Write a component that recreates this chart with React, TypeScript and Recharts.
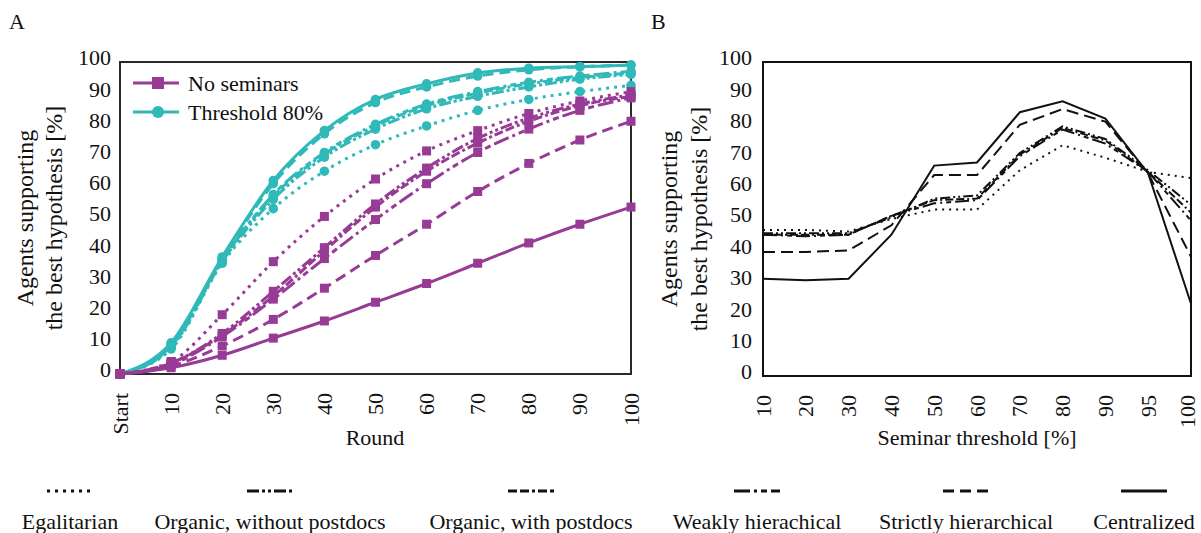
import React from "react";
import { LineChart, Line, XAxis, YAxis, ReferenceArea } from "recharts";

// ---- data ----
const rounds = ["Start", "10", "20", "30", "40", "50", "60", "70", "80", "90", "100"];
const thresholds = ["10", "20", "30", "40", "50", "60", "70", "80", "90", "95", "100"];
const yTicks = [0, 10, 20, 30, 40, 50, 60, 70, 80, 90, 100];

const structures = ["egal", "orgNo", "orgWith", "weak", "strict", "central"];
const structureNames = [
  "Egalitarian",
  "Organic, without postdocs",
  "Organic, with postdocs",
  "Weakly hierachical",
  "Strictly hierarchical",
  "Centralized",
];

// panel A, no seminars (purple)
const nsEgal = [0, 4, 19, 36, 50.5, 62.5, 71.5, 78, 83.5, 87.5, 90.5];
const nsOrgNo = [0, 3.5, 13, 26.5, 40.5, 54.5, 66, 75.5, 82, 86.5, 89.5];
const nsOrgWith = [0, 3.5, 12.5, 25, 39.5, 53.5, 65, 74, 81, 86, 89];
const nsWeak = [0, 3, 12, 24, 37, 49.5, 61, 71, 78.5, 84.5, 88.5];
const nsStrict = [0, 2.5, 9, 17.5, 27.5, 38, 48, 58.5, 67.5, 75, 81];
const nsCentral = [0, 2, 6, 11.5, 17, 23, 29, 35.5, 42, 48, 53.5];

// panel A, threshold 80% (teal)
const t80Egal = [0, 8, 35.5, 53, 65, 73.5, 79.5, 84.5, 88, 90.5, 92.5];
const t80OrgNo = [0, 8.5, 36, 56, 69.5, 78.5, 85, 89, 92, 94.5, 96];
const t80OrgWith = [0, 9, 36.5, 57, 70.5, 79.5, 86, 90, 93, 95, 96.5];
const t80Weak = [0, 9, 36.5, 57.5, 71, 80, 86.5, 90.5, 93.5, 95.5, 97];
const t80Strict = [0, 9.5, 37, 61, 77, 87, 92, 95.5, 97.5, 98.5, 99];
const t80Central = [0, 10, 37.5, 62, 78, 88, 93, 96.5, 98, 98.5, 99];

// panel B, by seminar threshold
const bEgal = [46.5, 46.5, 46, 50, 53, 53, 65.5, 73.5, 69.5, 65, 63];
const bOrgNo = [45.5, 45.5, 45.5, 50.5, 56.5, 57.5, 71, 79.5, 75.5, 65.5, 54.5];
const bOrgWith = [45, 45, 45, 51, 56, 56.5, 70.5, 79, 75, 65, 52];
const bWeak = [45, 44.5, 45, 51, 55, 56, 70, 78.5, 74, 65, 49.5];
const bStrict = [39.5, 39.5, 40, 48, 64, 64, 80, 85, 81, 64.5, 38];
const bCentral = [31, 30.5, 31, 45, 67, 68, 84, 87.5, 82, 64.5, 23];

const noSem = [nsEgal, nsOrgNo, nsOrgWith, nsWeak, nsStrict, nsCentral];
const thr80 = [t80Egal, t80OrgNo, t80OrgWith, t80Weak, t80Strict, t80Central];
const byThreshold = [bEgal, bOrgNo, bOrgWith, bWeak, bStrict, bCentral];

const dataA = rounds.map((r, i) => {
  const row: Record<string, string | number> = { round: r };
  structures.forEach((s, k) => {
    row["ns_" + s] = noSem[k][i];
    row["t_" + s] = thr80[k][i];
  });
  return row;
});

const dataB = thresholds.map((t, i) => {
  const row: Record<string, string | number> = { thr: t };
  structures.forEach((s, k) => {
    row[s] = byThreshold[k][i];
  });
  return row;
});

// ---- styles ----
const FONT = "Liberation Serif, DejaVu Serif, serif";
const PURPLE = "#973b95";
const TEAL = "#2fb9b8";
const INK = "#111";

const DASH: Record<string, string | undefined> = {
  egal: "3 5",
  orgNo: "12 3 3 3 3 3",
  orgWith: "9 3 9 3 3 3",
  weak: "16 4 3 4 6 4",
  strict: "11 6",
  central: undefined,
};

const DASH_B: Record<string, string | undefined> = {
  egal: "2 5",
  orgNo: "10 3 2 3 2 3",
  orgWith: "8 3 8 3 2 3",
  weak: "14 4 2 4 5 4",
  strict: "12 6",
  central: undefined,
};

const squareDot = (props: any) => {
  const { cx, cy, index } = props;
  if (cx == null || cy == null) return <g key={index} />;
  return <rect key={index} x={cx - 4.5} y={cy - 4.5} width={9} height={9} fill={PURPLE} />;
};

const circleDot = (props: any) => {
  const { cx, cy, index } = props;
  if (cx == null || cy == null) return <g key={index} />;
  return <circle key={index} cx={cx} cy={cy} r={4.8} fill={TEAL} />;
};

const RotTick = (props: any) => {
  const { x, y, payload, shiftLast } = props;
  const dx = shiftLast && payload.value === "100" ? -4 : 0;
  return (
    <text
      transform={`translate(${x + dx},${y + 19}) rotate(-90)`}
      textAnchor="end"
      dominantBaseline="central"
      fontSize={22}
      fontFamily={FONT}
      fill={INK}
    >
      {payload.value}
    </text>
  );
};

const YTick = (props: any) => {
  const { x, y, payload } = props;
  return (
    <text x={x} y={y - 4} dy="0.34em" textAnchor="end" fontSize={22} fontFamily={FONT} fill={INK}>
      {payload.value}
    </text>
  );
};

function PanelA() {
  return (
    <LineChart width={652} height={470} data={dataA} margin={{ top: 62, right: 21, bottom: 36, left: 60 }}>
      <XAxis
        dataKey="round"
        padding={{ left: 0, right: 0 }}
        axisLine={false}
        tickLine={false}
        tickSize={0}
        tickMargin={0}
        interval={0}
        height={60}
        tick={<RotTick />}
      />
      <YAxis
        domain={[0, 100]}
        ticks={yTicks}
        axisLine={false}
        tickLine={false}
        tickSize={0}
        tickMargin={9}
        width={60}
        tick={<YTick />}
      />
      {structures.map((s) => (
        <Line
          key={"t_" + s}
          dataKey={"t_" + s}
          type="monotone"
          stroke={TEAL}
          strokeWidth={3}
          strokeDasharray={DASH[s]}
          dot={circleDot}
          activeDot={false}
          isAnimationActive={false}
        />
      ))}
      {structures.map((s) => (
        <Line
          key={"ns_" + s}
          dataKey={"ns_" + s}
          type="monotone"
          stroke={PURPLE}
          strokeWidth={3}
          strokeDasharray={DASH[s]}
          dot={squareDot}
          activeDot={false}
          isAnimationActive={false}
        />
      ))}
      <ReferenceArea x1="Start" x2="100" y1={0} y2={100} fill="none" stroke="#2a2a2a" strokeWidth={2} />
    </LineChart>
  );
}

function PanelB() {
  return (
    <LineChart width={561} height={470} data={dataB} margin={{ top: 62, right: 10, bottom: 34, left: 63 }}>
      <XAxis
        dataKey="thr"
        padding={{ left: 0, right: 0 }}
        axisLine={false}
        tickLine={false}
        tickSize={0}
        tickMargin={0}
        interval={0}
        height={60}
        tick={<RotTick shiftLast />}
      />
      <YAxis
        domain={[0, 100]}
        ticks={yTicks}
        axisLine={false}
        tickLine={false}
        tickSize={0}
        tickMargin={11}
        width={60}
        tick={<YTick />}
      />
      {structures.map((s) => (
        <Line
          key={s}
          dataKey={s}
          type="linear"
          stroke={INK}
          strokeWidth={2}
          strokeDasharray={DASH_B[s]}
          dot={false}
          activeDot={false}
          isAnimationActive={false}
        />
      ))}
      <ReferenceArea x1="10" x2="100" y1={0} y2={100} fill="none" stroke={INK} strokeWidth={2} />
    </LineChart>
  );
}

// bottom legend item centres
const legendCenters = [70, 270, 531, 757, 966, 1144];

function Overlay() {
  const t = { fontFamily: FONT, fill: INK } as const;
  return (
    <svg width={1201} height={533} style={{ position: "absolute", left: 0, top: 0, pointerEvents: "none" }}>
      <text x={9} y={29} fontSize={22} {...t}>A</text>
      <text x={651} y={29} fontSize={22} {...t}>B</text>

      {/* y axis titles */}
      <g transform="translate(25,218) rotate(-90)">
        <text textAnchor="middle" dominantBaseline="central" fontSize={24} {...t}>Agents supporting</text>
      </g>
      <g transform="translate(54,218) rotate(-90)">
        <text textAnchor="middle" dominantBaseline="central" fontSize={24} {...t}>the best hypothesis [%]</text>
      </g>
      <g transform="translate(669,219) rotate(-90)">
        <text textAnchor="middle" dominantBaseline="central" fontSize={24} {...t}>Agents supporting</text>
      </g>
      <g transform="translate(699,219) rotate(-90)">
        <text textAnchor="middle" dominantBaseline="central" fontSize={24} {...t}>the best hypothesis [%]</text>
      </g>

      {/* x axis titles */}
      <text x={375} y={437} textAnchor="middle" dominantBaseline="central" fontSize={22} {...t}>Round</text>
      <text x={977} y={437} textAnchor="middle" dominantBaseline="central" fontSize={22} {...t}>Seminar threshold [%]</text>

      {/* panel A legend */}
      <line x1={133} x2={179} y1={83} y2={83} stroke={PURPLE} strokeWidth={3} />
      <rect x={152} y={77} width={12} height={12} fill={PURPLE} />
      <text x={188} y={83} dominantBaseline="central" fontSize={22} {...t}>No seminars</text>
      <line x1={133} x2={179} y1={112} y2={112} stroke={TEAL} strokeWidth={3} />
      <circle cx={158} cy={112} r={6} fill={TEAL} />
      <text x={188} y={112} dominantBaseline="central" fontSize={22} {...t}>Threshold 80%</text>

      {/* structure legend */}
      {structures.map((s, k) => (
        <g key={s}>
          <line
            x1={legendCenters[k] - 23}
            x2={legendCenters[k] + 23}
            y1={491}
            y2={491}
            stroke={INK}
            strokeWidth={3}
            strokeDasharray={DASH[s]}
          />
          <text x={legendCenters[k]} y={521} textAnchor="middle" dominantBaseline="central" fontSize={22} {...t}>
            {structureNames[k]}
          </text>
        </g>
      ))}
    </svg>
  );
}

export default function App() {
  return (
    <div style={{ position: "absolute", left: 0, top: 0, width: 1201, height: 533, background: "#fff", overflow: "hidden" }}>
      <div style={{ position: "absolute", left: 0, top: 0 }}>
        <PanelA />
      </div>
      <div style={{ position: "absolute", left: 640, top: 0 }}>
        <PanelB />
      </div>
      <Overlay />
    </div>
  );
}
